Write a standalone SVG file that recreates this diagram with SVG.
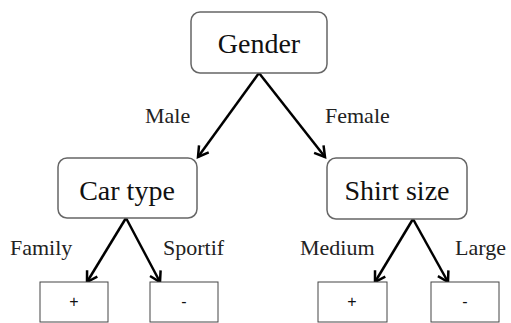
<svg xmlns="http://www.w3.org/2000/svg" width="511" height="323" viewBox="0 0 511 323">
<defs>
<style>
.node{fill:#fff;stroke:#666;stroke-width:1.5}
.leaf{fill:#fff;stroke:#444;stroke-width:1}
.t{font-family:"Liberation Serif","Times New Roman",serif;font-size:28px;fill:#111;text-anchor:middle}
.lbl{font-family:"Liberation Serif","Times New Roman",serif;font-size:22px;fill:#222}
.lt{font-family:"Liberation Sans",Arial,sans-serif;font-size:16px;fill:#111;text-anchor:middle}
.edge{stroke:#000;stroke-width:2.5;fill:none;marker-end:url(#ah)}
</style>
<marker id="ah" markerWidth="8" markerHeight="8" refX="7" refY="4" orient="auto" markerUnits="userSpaceOnUse" viewBox="0 0 8 8" overflow="visible">
<path d="M-3,-2 L7,4 L-3,10" fill="none" stroke="#000" stroke-width="2.5"/>
</marker>
</defs>
<g id="connectors">
<line class="edge" x1="259" y1="73" x2="198" y2="157"/>
<line class="edge" x1="259" y1="73" x2="325" y2="157"/>
<line class="edge" x1="126" y1="218" x2="87" y2="282"/>
<line class="edge" x1="126" y1="218" x2="160" y2="282"/>
<line class="edge" x1="413" y1="219" x2="375" y2="282"/>
<line class="edge" x1="413" y1="219" x2="448" y2="282"/>
<text class="lbl" x="145" y="123">Male</text>
<text class="lbl" x="325" y="123">Female</text>
<text class="lbl" x="10" y="255">Family</text>
<text class="lbl" x="163" y="255">Sportif</text>
<text class="lbl" x="300" y="255">Medium</text>
<text class="lbl" x="455" y="255">Large</text>
</g>
<g id="gender"><rect class="node" x="191" y="12" width="136" height="61" rx="9"/><text class="t" x="259" y="53">Gender</text></g>
<g id="cartype"><rect class="node" x="58" y="158" width="139" height="60" rx="9"/><text class="t" x="127" y="200">Car type</text></g>
<g id="shirtsize"><rect class="node" x="327" y="158" width="140" height="61" rx="9"/><text class="t" x="397" y="200">Shirt size</text></g>
<g id="leaf1"><rect class="leaf" x="40" y="282" width="68" height="40"/><text class="lt" x="74" y="307">+</text></g>
<g id="leaf2"><rect class="leaf" x="150" y="282" width="68" height="40"/><text class="lt" x="184" y="307">-</text></g>
<g id="leaf3"><rect class="leaf" x="318" y="282" width="69" height="40"/><text class="lt" x="352" y="307">+</text></g>
<g id="leaf4"><rect class="leaf" x="431" y="282" width="68" height="40"/><text class="lt" x="465" y="307">-</text></g>
</svg>
